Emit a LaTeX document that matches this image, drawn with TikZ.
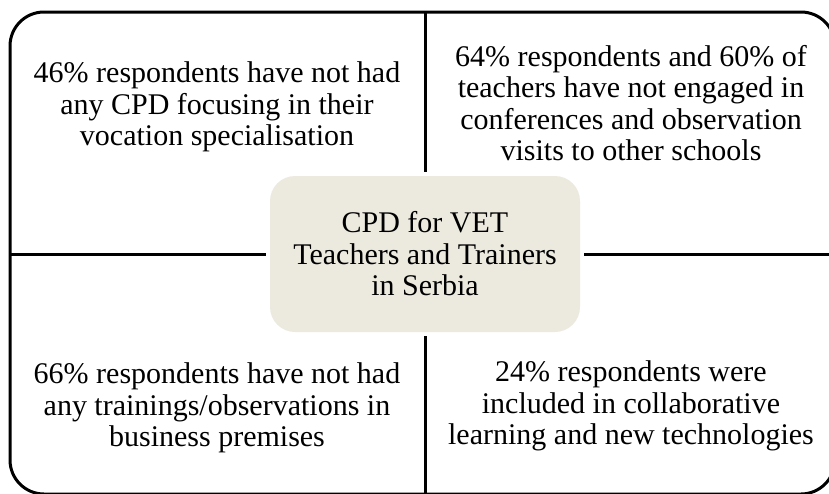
\documentclass[tikz,border=0pt]{standalone}
\usepackage{fontspec}
\setmainfont{Liberation Serif}
\usepackage{tikz}
\definecolor{hubfill}{RGB}{236,233,223}
\tikzset{frame/.style={draw, line width=3pt, rounded corners=34pt}}
\tikzset{hub/.style={fill=hubfill, rounded corners=25pt, minimum width=310pt, minimum height=156pt}}
\tikzset{note/.style={align=center, inner sep=0pt, font=\fontsize{30}{31.5}\selectfont}}
\tikzset{divider/.style={line width=3pt, shorten <=4pt}}

\begin{document}
\begin{tikzpicture}[x=1pt,y=-1pt]
\useasboundingbox (0,0) rectangle (829,493);
\clip (0,0) rectangle (829,493);

\node[frame, minimum width=825pt, minimum height=482pt] (frame) at (422.5,253) {};
\node[hub, note] (hub) at (425,254) {CPD for VET\\Teachers and Trainers\\in Serbia};

\foreach \s in {north,south}
  \draw[divider] (hub.\s) -- (hub.\s |- frame.\s);
\foreach \s in {west,east}
  \draw[divider] (hub.\s) -- (hub.\s -| frame.\s);

\node[note] (nw) at (217,107) {46\% respondents have not had\\any CPD focusing in their\\vocation specialisation};
\node[note] (ne) at (631,103) {64\% respondents and 60\% of\\teachers have not engaged in\\conferences and observation\\visits to other schools};
\node[note] (sw) at (217,408) {66\% respondents have not had\\any trainings/observations in\\business premises};
\node[note] (se) at (631,406) {24\% respondents were\\included in collaborative\\learning and new technologies};
\end{tikzpicture}
\end{document}
